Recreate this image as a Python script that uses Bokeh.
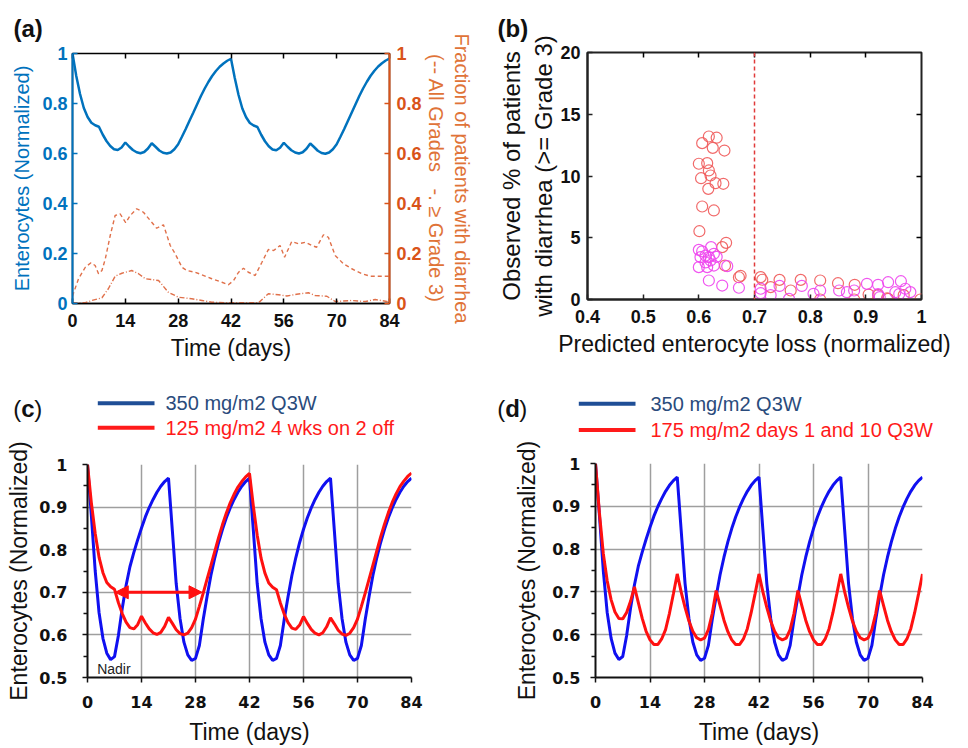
from bokeh.plotting import figure
from bokeh.models import (Range1d, LinearAxis, FixedTicker, CustomJSTickFormatter,
                          Label, Arrow, NormalHead, Span)
from bokeh.core.properties import value
from bokeh.layouts import column, row
from bokeh.embed import file_html
from bokeh.resources import INLINE

# ---------------- data ----------------
days = list(range(85))

# 125 mg/m2 4 wks on 2 off (panel a blue, panel c red)
ent_125 = [1.000, 0.910, 0.838, 0.782, 0.746, 0.723, 0.713, 0.707, 0.676, 0.650,
           0.630, 0.617, 0.614, 0.624, 0.644, 0.628, 0.614, 0.605, 0.601, 0.606,
           0.620, 0.641, 0.627, 0.612, 0.603, 0.600, 0.604, 0.617, 0.637, 0.667,
           0.698, 0.731, 0.763, 0.796, 0.829, 0.859, 0.886, 0.910, 0.930, 0.947,
           0.960, 0.971, 0.979, 0.902, 0.834, 0.780, 0.745, 0.722, 0.712, 0.706,
           0.675, 0.649, 0.629, 0.616, 0.613, 0.623, 0.643, 0.627, 0.613, 0.604,
           0.600, 0.605, 0.619, 0.640, 0.626, 0.611, 0.602, 0.599, 0.604, 0.617,
           0.637, 0.667, 0.698, 0.731, 0.764, 0.797, 0.830, 0.860, 0.887, 0.911,
           0.931, 0.948, 0.961, 0.972, 0.980]

# 350 mg/m2 Q3W (panels c, d blue)
ent_350 = [1.000, 0.880, 0.750, 0.652, 0.592, 0.557, 0.542, 0.549, 0.598, 0.662,
           0.716, 0.760, 0.793, 0.823, 0.851, 0.877, 0.899, 0.918, 0.935, 0.949,
           0.960, 0.968, 0.845, 0.720, 0.638, 0.583, 0.553, 0.540, 0.545, 0.575,
           0.636, 0.690, 0.740, 0.781, 0.817, 0.848, 0.875, 0.898, 0.918, 0.935,
           0.949, 0.960, 0.968, 0.845, 0.720, 0.638, 0.583, 0.553, 0.540, 0.545,
           0.575, 0.636, 0.690, 0.740, 0.781, 0.817, 0.848, 0.875, 0.898, 0.918,
           0.935, 0.949, 0.960, 0.968, 0.845, 0.720, 0.638, 0.583, 0.553, 0.540,
           0.545, 0.575, 0.636, 0.690, 0.740, 0.781, 0.817, 0.848, 0.875, 0.898,
           0.918, 0.935, 0.949, 0.960, 0.968]

# 175 mg/m2 days 1 and 10 Q3W (panel d red)
ent_175 = [1.000, 0.885, 0.790, 0.726, 0.682, 0.653, 0.638, 0.637, 0.652, 0.678,
           0.712, 0.675, 0.638, 0.608, 0.588, 0.577, 0.577, 0.590, 0.612, 0.650,
           0.695, 0.742, 0.700, 0.664, 0.632, 0.608, 0.593, 0.588, 0.592, 0.612,
           0.650, 0.703, 0.668, 0.634, 0.607, 0.588, 0.577, 0.577, 0.590, 0.614,
           0.652, 0.696, 0.742, 0.700, 0.664, 0.632, 0.608, 0.593, 0.588, 0.592,
           0.612, 0.650, 0.703, 0.668, 0.634, 0.607, 0.588, 0.577, 0.577, 0.590,
           0.614, 0.652, 0.696, 0.742, 0.700, 0.664, 0.632, 0.608, 0.593, 0.588,
           0.592, 0.612, 0.650, 0.703, 0.668, 0.634, 0.607, 0.588, 0.577, 0.577,
           0.590, 0.614, 0.652, 0.696, 0.742]

# panel a: fraction of patients with diarrhea
all_days = [0, 1.6, 3.4, 4.9, 6.0, 6.9, 7.8, 8.7, 10.0, 11.3, 12.6, 14.1, 15.3, 17.0,
            18.8, 20.6, 22.3, 24.1, 25.9, 27.2, 29.0, 30.3, 32.5, 34.3, 36.9, 39.6,
            41.3, 42.7, 44.0, 45.3, 46.6, 48.4, 50.2, 51.9, 53.3, 55.0, 56.2, 58.1,
            59.9, 61.8, 63.4, 64.7, 66.5, 67.8, 69.6, 71.8, 74.0, 76.7, 78.9, 82.9, 84]
all_frac = [0.03, 0.099, 0.145, 0.163, 0.152, 0.119, 0.132, 0.179, 0.272, 0.352,
            0.359, 0.323, 0.352, 0.379, 0.365, 0.332, 0.301, 0.315, 0.232, 0.199,
            0.145, 0.132, 0.125, 0.115, 0.099, 0.085, 0.075, 0.092, 0.125, 0.141,
            0.125, 0.112, 0.165, 0.216, 0.212, 0.232, 0.185, 0.248, 0.239, 0.245,
            0.232, 0.225, 0.275, 0.265, 0.192, 0.159, 0.139, 0.119, 0.109, 0.109, 0.109]
g3_days = [0, 3.4, 5.1, 7.8, 9.5, 11.3, 13.1, 15.7, 17.5, 19.3, 22.8, 25.4, 28.1,
           31.6, 34.3, 36.9, 41.3, 49.3, 51.9, 54.6, 56.8, 59.4, 62.5, 64.3, 67.4,
           69.6, 74.0, 77.6, 80.2, 83.3, 84]
g3_frac = [0.002, 0.003, 0.012, 0.023, 0.059, 0.109, 0.121, 0.132, 0.119, 0.099,
           0.092, 0.045, 0.025, 0.019, 0.012, 0.005, 0.003, 0.003, 0.039, 0.035,
           0.030, 0.037, 0.043, 0.032, 0.029, 0.008, 0.012, 0.008, 0.016, 0.008, 0.006]

# panel b: scatter
red_x = [0.618, 0.632, 0.606, 0.625, 0.646, 0.600, 0.615, 0.618, 0.621, 0.604,
         0.630, 0.644, 0.617, 0.606, 0.627, 0.601, 0.649, 0.642, 0.647, 0.675,
         0.672, 0.711, 0.714, 0.745, 0.783, 0.818, 0.850, 0.880, 0.729, 0.765,
         0.818, 0.879, 0.905, 0.922, 0.938, 0.998, 0.968, 0.940]
red_y = [13.2, 13.1, 12.66, 12.28, 12.06, 10.99, 11.04, 10.45, 10.04, 9.82,
         9.42, 9.37, 8.96, 7.53, 7.21, 5.53, 4.59, 4.24, 2.75, 1.92,
         1.8, 1.81, 1.6, 1.59, 1.59, 1.54, 1.32, 1.19, 1.0, 0.73,
         0.0, 0.0, 0.4, 0.35, 0.1, 0.0, 0.35, 0.05]
mag_x = [0.600, 0.606, 0.622, 0.603, 0.612, 0.618, 0.627, 0.632, 0.621, 0.600,
         0.615, 0.627, 0.651, 0.618, 0.642, 0.672, 0.711, 0.711, 0.729, 0.762,
         0.806, 0.818, 0.852, 0.866, 0.879, 0.902, 0.922, 0.940, 0.963, 0.953,
         0.971, 0.980, 0.925, 0.922, 0.960, 0.745, 0.785, 0.612]
mag_y = [4.02, 3.90, 4.24, 3.43, 3.55, 3.43, 3.70, 3.45, 3.16, 2.62,
         2.62, 2.75, 2.70, 1.54, 1.13, 0.95, 0.87, 0.51, 0.35, 0.05,
         0.46, 0.73, 0.73, 0.59, 0.73, 1.27, 1.19, 1.40, 1.48, 0.59,
         0.87, 0.60, 0.20, 0.44, 0.44, 1.1, 1.1, 3.0]

day_ticks = [0, 14, 28, 42, 56, 70, 84]
frac_ticks = [0, 0.2, 0.4, 0.6, 0.8, 1.0]
b_xticks = [0.4, 0.5, 0.6, 0.7, 0.8, 0.9, 1.0]
b_yticks = [0, 5, 10, 15, 20]
cd_yticks = [0.5, 0.6, 0.7, 0.8, 0.9, 1.0]
cd_yminor = [0.55, 0.65, 0.75, 0.85, 0.95]

legend_c = ["350 mg/m2 Q3W", "125 mg/m2 4 wks on 2 off"]
legend_d = ["350 mg/m2 Q3W", "175 mg/m2 days 1 and 10 Q3W"]

BLUE_A = "#0072BD"
ORANGE = "#D95319"
ARIAL = "Liberation Sans"
VERD = "DejaVu Sans"


def fmt():
    return CustomJSTickFormatter(code="return (Math.round(tick*100)/100).toString();")


def no_align(p):
    try:
        p.frame_align = False
    except Exception:
        pass


def make_fig(w, h, xr, yr, bl, br, bt, bb):
    p = figure(width=w, height=h, x_range=Range1d(*xr), y_range=Range1d(*yr),
               output_backend="svg", toolbar_location=None, tools="",
               min_border_left=bl, min_border_right=br,
               min_border_top=bt, min_border_bottom=bb)
    p.background_fill_color = "white"
    p.border_fill_color = "white"
    no_align(p)
    return p


def style_axis(ax, ticks, color, font, tsize, lsize, tick_in, tick_out,
               mstand, lstand, label, lcolor=None, minor=None, line_w=2):
    ax.ticker = FixedTicker(ticks=ticks, minor_ticks=minor or [])
    ax.formatter = fmt()
    ax.axis_line_color = color
    ax.axis_line_width = line_w
    ax.major_tick_line_color = color
    ax.major_tick_line_width = 1.5
    ax.major_tick_in = tick_in
    ax.major_tick_out = tick_out
    if minor:
        ax.minor_tick_line_color = color
        ax.minor_tick_line_width = 1.5
        ax.minor_tick_in = 0
        ax.minor_tick_out = 4
    else:
        ax.minor_tick_line_color = None
    ax.major_label_text_font = font
    ax.major_label_text_font_style = "bold"
    ax.major_label_text_font_size = tsize
    ax.major_label_text_color = color if lcolor is None else lcolor
    ax.major_label_standoff = mstand
    ax.axis_label = label
    ax.axis_label_text_font = ARIAL
    ax.axis_label_text_font_style = "normal"
    ax.axis_label_text_font_size = lsize
    ax.axis_label_standoff = lstand


def ghost_axis(p, side, ticks, y_range_name=None):
    kw = {}
    if y_range_name:
        kw["y_range_name"] = y_range_name
    ax = LinearAxis(ticker=FixedTicker(ticks=ticks), **kw)
    ax.axis_line_color = None
    ax.major_tick_line_color = "black"
    ax.major_tick_line_width = 1.5
    ax.major_tick_in = 5
    ax.major_tick_out = 0
    ax.minor_tick_line_color = None
    ax.major_label_text_alpha = 0
    ax.major_label_text_font_size = "0px"
    ax.major_label_standoff = 0
    ax.axis_label_standoff = 0
    p.add_layout(ax, side)


def title_letter(p, txt, offset, standoff):
    p.title.text = txt
    p.title.align = "left"
    p.title.offset = offset
    p.title.standoff = standoff
    p.title.text_font = ARIAL
    p.title.text_font_size = "24px"
    p.title.text_font_style = "bold"
    p.title.text_color = "#111111"


def header(w, h):
    p = figure(width=w, height=h, x_range=Range1d(0, w), y_range=Range1d(h, 0),
               output_backend="svg", toolbar_location=None, tools="",
               x_axis_location=None, y_axis_location=None, min_border=0)
    p.outline_line_color = None
    p.background_fill_color = "white"
    p.border_fill_color = "white"
    for g in p.grid:
        g.visible = False
    no_align(p)
    return p


def header_content(h, lab_x, lab_y, letter, lw, lx0, lx1, tx, yb, yr, legend):
    for txt, off, st in [("(", 0, "normal"), (letter, 8, "bold"), (")", 8 + lw, "normal")]:
        h.text(x=[lab_x], y=[lab_y], text=[txt], x_offset=off, text_font=value(ARIAL),
               text_font_size="24px", text_font_style=st, text_color="#111111",
               text_baseline="middle", text_align="left")
    h.segment(x0=[lx0], y0=[yb], x1=[lx1], y1=[yb], line_color="#1F4E96", line_width=4)
    h.segment(x0=[lx0], y0=[yr], x1=[lx1], y1=[yr], line_color="#FF1A1A", line_width=4)
    h.text(x=[tx], y=[yb], text=[legend[0]], text_font=value(ARIAL), text_font_size="20px",
           text_color="#2A4B7C", text_baseline="middle", text_align="left")
    h.text(x=[tx], y=[yr], text=[legend[1]], text_font=value(ARIAL), text_font_size="20px",
           text_color="#FF1A1A", text_baseline="middle", text_align="left")


# ---------------- panel (a) ----------------
pa = make_fig(480, 370, (0, 84), (0, 1), 72, 91, 53, 67)
pa.grid.visible = False
pa.outline_line_color = "black"
pa.outline_line_width = 1.5
pa.extra_y_ranges = {"frac": Range1d(0, 1)}

style_axis(pa.yaxis[0], frac_ticks, BLUE_A, ARIAL, "18px", "20px", 5, 0, 5, 6,
           "Enterocytes (Normalized)")
pa.yaxis[0].axis_label_text_color = BLUE_A
style_axis(pa.xaxis[0], day_ticks, "black", ARIAL, "18px", "23px", 5, 0, 10, 5,
           "Time (days)", lcolor="#111111", line_w=1.5)
pa.xaxis[0].axis_label_text_color = "#111111"

ra = LinearAxis(y_range_name="frac")
style_axis(ra, frac_ticks, ORANGE, ARIAL, "18px", "20px", 5, 0, 7, 0,
           "Fraction of patients with diarrhea\n(-- All Grades\u00a0\u00a0\u00a0-. \u2265 Grade 3)")
ra.axis_label_text_color = "#E07338"
pa.add_layout(ra, "right")
ghost_axis(pa, "above", day_ticks)
title_letter(pa, "(a)", -59, 23)

pa.line(days, ent_125, line_color=BLUE_A, line_width=2.5)
pa.line(all_days, all_frac, y_range_name="frac", line_color="#E0704A",
        line_width=1.4, line_dash="4 3")
pa.line(g3_days, g3_frac, y_range_name="frac", line_color="#E0704A",
        line_width=1.4, line_dash="5 2 1 2")

# ---------------- panel (b) ----------------
pb = make_fig(480, 370, (0.4, 1.0), (0, 20), 107, 39, 52, 71)
pb.grid.visible = False
pb.outline_line_color = "#222222"
pb.outline_line_width = 2
style_axis(pb.yaxis[0], b_yticks, "#222222", ARIAL, "18px", "24px", 5, 0, 7, 0,
           "Observed % of patients\nwith diarrhea (>= Grade 3)", lcolor="#111111")
style_axis(pb.xaxis[0], b_xticks, "#222222", ARIAL, "18px", "23px", 5, 0, 10, 5,
           "Predicted enterocyte loss (normalized)", lcolor="#111111")
pb.xaxis[0].axis_label_text_color = "#111111"
pb.yaxis[0].axis_label_text_color = "#111111"
ghost_axis(pb, "above", b_xticks[1:-1])
ghost_axis(pb, "right", b_yticks[1:-1])
title_letter(pb, "(b)", -90, 22)

pb.add_layout(Span(location=0.7, dimension="height", line_color="#E03A3A",
                   line_width=1.5, line_dash="4 3"))
pb.scatter(red_x, red_y, marker="circle", size=11, fill_color=None,
           line_color="#F05A5A", line_width=1.2, line_alpha=0.9)
pb.scatter(mag_x, mag_y, marker="circle", size=11, fill_color=None,
           line_color="#EE44EE", line_width=1.2, line_alpha=0.9)


# ---------------- panels (c) and (d) ----------------
def cd_panel(bl, br, bt, bb, ystand, ylstand, red_series):
    p = make_fig(480, 307, (0, 84), (0.5, 1.0), bl, br, bt, bb)
    p.outline_line_color = None
    p.xgrid.ticker = FixedTicker(ticks=day_ticks)
    p.ygrid.ticker = FixedTicker(ticks=cd_yticks)
    p.grid.grid_line_color = "#9E9E9E"
    p.grid.grid_line_width = 1.5
    style_axis(p.yaxis[0], cd_yticks, "#111111", VERD, "16px", "23px", 0, 5, ystand,
               ylstand, "Enterocytes (Normalized)", minor=cd_yminor)
    style_axis(p.xaxis[0], day_ticks, "#111111", VERD, "16px", "23px", 0, 5, 13, 8,
               "Time (days)")
    p.xaxis[0].axis_label_text_color = "#111111"
    p.yaxis[0].axis_label_text_color = "#111111"
    p.line(days, ent_350, line_color="#1010F0", line_width=3)
    p.line(days, red_series, line_color="#FF1010", line_width=3)
    return p


pc = cd_panel(87, 69, 24, 68, 15, 4, ent_125)
pc.add_layout(Arrow(start=NormalHead(size=13, fill_color="#FF1010", line_color="#FF1010"),
                    end=NormalHead(size=13, fill_color="#FF1010", line_color="#FF1010"),
                    x_start=7.2, y_start=0.70, x_end=29.7, y_end=0.70,
                    line_color="#FF1010", line_width=3))
pc.add_layout(Label(x=2.5, y=0.521, text="Nadir", text_font=ARIAL, text_font_size="14px",
                    text_color="#222222", text_baseline="middle", text_align="left"))
hc = header(480, 70)
header_content(hc, 12.7, 38, "c", 13, 97.3, 154, 165, 32.7, 57.3, legend_c)

pd_ = cd_panel(115, 38, 23, 67, 10, 9, ent_175)
hd = header(480, 70)
header_content(hd, 16.7, 38, "d", 14, 98.3, 155, 170, 33.3, 59.5, legend_d)

layout = column(row(pa, pb), row(column(hc, pc), column(hd, pd_)))
open("out.html", "w").write(file_html(layout, INLINE))
